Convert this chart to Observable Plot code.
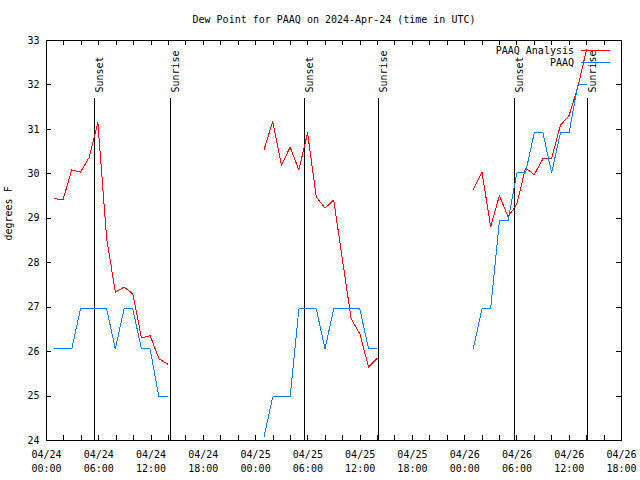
<!DOCTYPE html>
<html>
<head>
<meta charset="utf-8">
<script src="https://cdn.jsdelivr.net/npm/d3@7"></script>
<script src="https://cdn.jsdelivr.net/npm/@observablehq/plot@0.6"></script>
<style>
  body { margin: 0; background: #fff; font-family: "DejaVu Sans Mono", monospace; }
  #wrap { position: relative; width: 640px; height: 480px; }
  #title { height: 16px; padding-top: 14px; padding-left: 28px; line-height: 12px; text-align: center; font-size: 10px; color: #000; }
  #legend { position: absolute; top: 44px; right: 30px; font-size: 10px; color: #000; }
  .row { display: flex; align-items: center; justify-content: flex-end; height: 12.5px; }
  .swatch { display: inline-block; width: 29px; height: 0; margin-left: 7px; border-top: 1px solid; }
</style>
</head>
<body>
<div id="wrap">
  <div id="title">Dew Point for PAAQ on 2024-Apr-24 (time in UTC)</div>
  <div id="chart"></div>
  <div id="legend"></div>
</div>
<script>
// ---- data ----
const seriesNames = ["PAAQ Analysis", "PAAQ"];
const seriesColors = ["#ff0000", "#0080ff"];

const times1 = ["2024-04-24T00:54Z","2024-04-24T01:54Z","2024-04-24T02:54Z","2024-04-24T03:54Z","2024-04-24T04:54Z","2024-04-24T05:54Z","2024-04-24T06:54Z","2024-04-24T07:54Z","2024-04-24T08:54Z","2024-04-24T09:54Z","2024-04-24T10:54Z","2024-04-24T11:54Z","2024-04-24T12:54Z","2024-04-24T13:54Z"];
const analysis1 = [29.44, 29.42, 30.09, 30.04, 30.37, 31.15, 28.55, 27.34, 27.45, 27.30, 26.31, 26.36, 25.84, 25.72];
const obs1 = [26.06, 26.06, 26.06, 26.96, 26.96, 26.96, 26.96, 26.06, 26.96, 26.96, 26.06, 26.06, 24.98, 24.98];

const times2 = ["2024-04-25T00:58Z","2024-04-25T01:58Z","2024-04-25T02:58Z","2024-04-25T03:58Z","2024-04-25T04:58Z","2024-04-25T05:58Z","2024-04-25T06:58Z","2024-04-25T07:58Z","2024-04-25T08:58Z","2024-04-25T09:58Z","2024-04-25T10:58Z","2024-04-25T11:58Z","2024-04-25T12:58Z","2024-04-25T13:58Z"];
const analysis2 = [30.54, 31.18, 30.19, 30.60, 30.09, 30.92, 29.48, 29.23, 29.41, 28.07, 26.74, 26.40, 25.65, 25.85];
const obs2 = [24.08, 24.98, 24.98, 24.98, 26.96, 26.96, 26.96, 26.06, 26.96, 26.96, 26.96, 26.96, 26.06, 26.06];

const times3 = ["2024-04-26T00:59Z","2024-04-26T01:59Z","2024-04-26T02:59Z","2024-04-26T03:59Z","2024-04-26T04:59Z","2024-04-26T05:59Z","2024-04-26T06:59Z","2024-04-26T07:59Z","2024-04-26T08:59Z","2024-04-26T09:59Z","2024-04-26T10:59Z","2024-04-26T11:59Z","2024-04-26T12:59Z","2024-04-26T13:59Z"];
const analysis3 = [29.65, 30.04, 28.81, 29.51, 29.03, 29.32, 30.13, 29.98, 30.34, 30.35, 31.09, 31.31, 31.95, 32.79];
const obs3 = [26.06, 26.96, 26.96, 28.94, 28.94, 30.02, 30.02, 30.92, 30.92, 30.02, 30.92, 30.92, 32.00, 32.00];

const eventTimes = ["2024-04-24T05:33Z","2024-04-24T14:16Z","2024-04-25T05:39Z","2024-04-25T14:09Z","2024-04-26T05:45Z","2024-04-26T14:06Z"];
const eventLabels = ["Sunset","Sunrise","Sunset","Sunrise","Sunset","Sunrise"];

const xDomain = ["2024-04-24T00:00Z", "2024-04-26T18:00Z"];
const yTicks = [24, 25, 26, 27, 28, 29, 30, 31, 32, 33];
const yLabel = "degrees F";

// ---- build tables ----
const rows = [];
[[times1, analysis1, obs1], [times2, analysis2, obs2], [times3, analysis3, obs3]].forEach(([t, a, o], s) => {
  t.forEach((ts, i) => {
    rows.push({time: new Date(ts), value: a[i], series: seriesNames[0], key: seriesNames[0] + s});
    rows.push({time: new Date(ts), value: o[i], series: seriesNames[1], key: seriesNames[1] + s});
  });
});
const events = eventTimes.map((t, i) => ({time: new Date(t), label: eventLabels[i]}));

const x0 = new Date(xDomain[0]), x1 = new Date(xDomain[1]);
const xMajor = d3.utcHour.every(6).range(x0, new Date(+x1 + 1));
const xMinor = d3.utcHour.every(2).range(x0, new Date(+x1 + 1));

const W = 640, H = 450, mL = 46, mR = 19, mT = 10, mB = 40;
const plotW = W - mL - mR, plotH = H - mT - mB, tick = 5;

const chart = Plot.plot({
  width: W, height: H,
  marginLeft: mL, marginRight: mR, marginTop: mT, marginBottom: mB,
  x: {type: "utc", domain: [x0, x1]},
  y: {domain: [yTicks[0], yTicks[yTicks.length - 1]]},
  color: {domain: seriesNames, range: seriesColors},
  style: {fontFamily: "'DejaVu Sans Mono', monospace", fontSize: "10px", background: "white", color: "black"},
  marks: [
    Plot.tickX(xMinor, {x: d => d, insetTop: plotH - tick, stroke: "black", shapeRendering: "crispEdges"}),
    Plot.tickX(xMinor, {x: d => d, insetBottom: plotH - tick, stroke: "black", shapeRendering: "crispEdges"}),
    Plot.tickY(yTicks, {y: d => d, insetRight: plotW - tick, stroke: "black", shapeRendering: "crispEdges"}),
    Plot.tickY(yTicks, {y: d => d, insetLeft: plotW - tick, stroke: "black", shapeRendering: "crispEdges"}),
    Plot.axisX(xMajor, {tickSize: 0, tickPadding: 8, tickFormat: d3.utcFormat("%m/%d\n%H:%M"), lineHeight: 1.35, label: null}),
    Plot.axisY(yTicks, {tickSize: 0, tickPadding: 7, label: null}),
    Plot.text([yLabel], {frameAnchor: "left", text: d => d, rotate: -90, dx: -38}),
    Plot.ruleX(events, {x: "time", insetTop: 58, stroke: "black", shapeRendering: "crispEdges"}),
    Plot.text(events, {x: "time", text: "label", frameAnchor: "top", dy: 52, dx: 1, rotate: -90, textAnchor: "start"}),
    Plot.line(rows, {x: "time", y: "value", z: "key", stroke: "series", strokeWidth: 1, shapeRendering: "crispEdges"}),
    Plot.frame({stroke: "black", shapeRendering: "crispEdges"})
  ]
});
document.getElementById("chart").appendChild(chart);

// legend
const legend = document.getElementById("legend");
seriesNames.forEach((name, i) => {
  const row = document.createElement("div");
  row.className = "row";
  const label = document.createElement("span");
  label.textContent = name;
  const sw = document.createElement("span");
  sw.className = "swatch";
  sw.style.borderTopColor = seriesColors[i];
  row.appendChild(label);
  row.appendChild(sw);
  legend.appendChild(row);
});
</script>
</body>
</html>
